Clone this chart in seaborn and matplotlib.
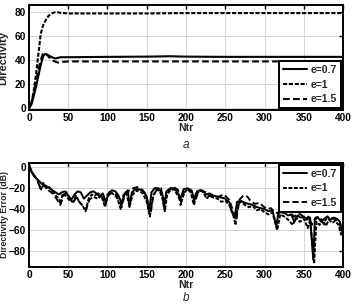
import matplotlib
matplotlib.use("Agg")
import matplotlib.pyplot as plt
import seaborn as sns
import pandas as pd

# ---------------- data: panel a (Directivity) ----------------
a_x_07 = [0, 3, 6, 9, 12, 15, 18, 20, 22, 25, 28, 31, 34, 37, 40, 50, 100, 150, 180, 200, 250, 300, 400]
a_y_07 = [0, 3, 10, 18, 27, 36, 43, 45, 45, 44, 43, 42, 41.5, 42, 42.5, 42.5, 42.8, 43, 43.3, 43, 42.8, 42.8, 42.8]

a_x_10 = [0, 3, 6, 9, 12, 15, 18, 21, 25, 29, 33, 36, 40, 50, 100, 150, 200, 250, 300, 400]
a_y_10 = [0, 4, 14, 28, 45, 62, 69, 73, 77, 79, 80, 80, 79.5, 79, 79, 79, 79.3, 79.3, 79.3, 79.3]

a_x_15 = [0, 3, 6, 9, 12, 15, 18, 21, 25, 29, 33, 37, 40, 50, 100, 200, 300, 400]
a_y_15 = [0, 4, 12, 22, 32, 40, 46, 46, 43, 40, 39, 38, 38.5, 39, 39, 39, 39, 39]

# ---------------- data: panel b (Directivity Error, dB) ----------------
b_x_07 = [0, 3, 6, 10, 14, 18, 22, 26, 30, 34, 38, 42, 46, 50, 54, 58, 62, 66, 70, 74, 78, 82, 86, 90, 94, 98,
          102, 106, 110, 114, 118, 122, 126, 128, 131, 135, 140, 145, 150, 153, 156, 160, 165, 170, 172, 175,
          180, 185, 190, 193, 197, 202, 207, 210, 214, 218, 222, 226, 230, 235, 240, 245, 250, 255, 258, 262,
          265, 270, 275, 280, 285, 290, 295, 300, 305, 310, 315, 318, 322, 326, 330, 334, 338, 342, 346, 350,
          354, 358, 362, 364, 368, 372, 376, 380, 384, 388, 392, 396, 399]
b_y_07 = [0, -4, -8, -11, -14, -17, -18, -20, -22, -24, -26, -24, -23, -27, -31, -26, -23, -24, -30, -27, -24,
          -23, -25, -28, -25, -33, -24, -22, -23, -27, -35, -25, -22, -38, -24, -21, -21, -22, -28, -42, -24,
          -20, -20, -26, -38, -23, -20, -20, -25, -30, -21, -20, -22, -30, -23, -22, -23, -26, -25, -27, -28,
          -29, -30, -33, -42, -48, -33, -32, -34, -35, -36, -38, -39, -40, -42, -41, -56, -42, -43, -44, -46,
          -45, -52, -46, -48, -47, -50, -48, -88, -50, -48, -52, -49, -47, -50, -48, -49, -52, -62]

b_x_10 = [0, 4, 8, 12, 15, 18, 22, 26, 30, 34, 38, 40, 43, 48, 52, 56, 60, 64, 68, 72, 76, 80, 84, 88, 92, 97,
          100, 104, 108, 112, 117, 120, 124, 128, 132, 136, 140, 145, 150, 154, 158, 162, 166, 170, 173, 176,
          180, 185, 190, 194, 198, 202, 206, 210, 214, 218, 222, 226, 230, 235, 240, 245, 250, 255, 260, 263,
          266, 270, 275, 280, 285, 290, 295, 300, 305, 310, 316, 320, 325, 330, 336, 340, 345, 350, 355, 358,
          363, 366, 370, 374, 378, 382, 386, 390, 394, 398]
b_y_10 = [1, -5, -9, -14, -22, -15, -20, -19, -23, -27, -30, -35, -25, -28, -32, -33, -27, -33, -36, -42, -30,
          -26, -29, -30, -27, -38, -26, -24, -26, -29, -40, -27, -24, -38, -26, -23, -22, -25, -33, -47, -27,
          -22, -22, -30, -42, -26, -22, -21, -28, -33, -24, -21, -24, -36, -25, -22, -24, -30, -27, -29, -30,
          -33, -32, -36, -45, -55, -35, -33, -36, -38, -37, -41, -40, -43, -45, -43, -60, -45, -47, -50, -55,
          -48, -52, -49, -58, -50, -92, -52, -55, -50, -56, -50, -53, -51, -55, -65]

b_x_15 = [0, 5, 10, 15, 20, 25, 30, 35, 40, 44, 48, 52, 56, 60, 65, 70, 73, 77, 82, 88, 93, 97, 101, 106, 110,
          115, 118, 122, 128, 133, 138, 143, 148, 152, 155, 158, 163, 168, 172, 175, 180, 185, 190, 193, 197,
          202, 207, 211, 215, 220, 225, 230, 236, 242, 248, 255, 260, 264, 268, 273, 278, 283, 288, 293, 298,
          303, 308, 313, 318, 323, 328, 333, 338, 343, 348, 352, 356, 360, 365, 370, 375, 380, 385, 390, 395, 400]
b_y_15 = [2, -6, -12, -20, -17, -22, -25, -30, -36, -27, -24, -30, -34, -29, -34, -38, -40, -31, -28, -25, -27,
          -36, -27, -24, -25, -32, -38, -26, -22, -20, -19, -21, -25, -35, -44, -28, -21, -20, -35, -26, -21,
          -19, -22, -36, -24, -21, -23, -33, -25, -22, -24, -27, -29, -28, -26, -31, -42, -50, -31, -27, -28,
          -33, -35, -34, -37, -40, -39, -43, -44, -42, -40, -44, -47, -44, -46, -50, -47, -55, -48, -47, -54,
          -47, -48, -50, -53, -62]

labels = ["e=0.7", "e=1", "e=1.5"]
x_ticks = [0, 50, 100, 150, 200, 250, 300, 350, 400]
a_y_ticks = [0, 20, 40, 60, 80]
b_y_ticks = [0, -20, -40, -60, -80]


def frame(xs, ys):
    parts = []
    for lab, x, y in zip(labels, xs, ys):
        parts.append(pd.DataFrame({"Ntr": x, "val": y, "series": lab}))
    return pd.concat(parts, ignore_index=True)


df_a = frame([a_x_07, a_x_10, a_x_15], [a_y_07, a_y_10, a_y_15])
df_b = frame([b_x_07, b_x_10, b_x_15], [b_y_07, b_y_10, b_y_15])

sns.set_style("white")
plt.rcParams["font.family"] = ["Liberation Sans", "DejaVu Sans"]
plt.rcParams["font.weight"] = "bold"

fig = plt.figure(figsize=(3.53, 3.06), dpi=100)
ax1 = fig.add_axes([0.082, 0.6405, 0.89, 0.343])
ax2 = fig.add_axes([0.082, 0.1275, 0.89, 0.340])

dash_map = {"e=0.7": "", "e=1": (2, 0.8), "e=1.5": (3.2, 1.6)}
pal = {lab: "black" for lab in labels}


def style(ax, ylim, yticks, ylabel, ylabel_size, ylabel_x, legend_loc):
    ax.set_xlim(0, 400)
    ax.set_ylim(*ylim)
    ax.set_xticks(x_ticks)
    ax.set_yticks(yticks)
    ax.grid(True, color="#d4d4d4", linewidth=0.7)
    ax.set_axisbelow(True)
    for s in ax.spines.values():
        s.set_color("black")
        s.set_linewidth(1.4)
    ax.tick_params(direction="in", length=3, width=1, labelsize=7.3, pad=2,
                   top=True, right=True, colors="black")
    for t in ax.get_xticklabels() + ax.get_yticklabels():
        t.set_fontweight("bold")
    ax.set_xlabel("Ntr", fontsize=7.5, fontweight="bold", labelpad=0)
    ax.set_ylabel(ylabel, fontsize=ylabel_size, fontweight="bold")
    ax.yaxis.set_label_coords(ylabel_x, 0.5)
    leg = ax.legend(loc=legend_loc, fontsize=7.5, frameon=True, fancybox=False,
                    handlelength=2.3, borderpad=0.35, labelspacing=0.45,
                    handletextpad=0.4, borderaxespad=0.2)
    leg.get_frame().set_edgecolor("black")
    leg.get_frame().set_linewidth(1.4)
    leg.get_frame().set_alpha(1)
    for t in leg.get_texts():
        t.set_fontweight("bold")


sns.lineplot(data=df_a, x="Ntr", y="val", hue="series", style="series", dashes=dash_map,
             palette=pal, linewidth=1.5, ax=ax1, sort=False, estimator=None)
style(ax1, (-1.5, 86), a_y_ticks, "Directivity", 8, -0.065, "lower right")

sns.lineplot(data=df_b, x="Ntr", y="val", hue="series", style="series", dashes=dash_map,
             palette=pal, linewidth=1.4, ax=ax2, sort=False, estimator=None)
style(ax2, (-95, 4), b_y_ticks, "Directivity Error (dB)", 6.3, -0.062, "upper right")

fig.text(0.527, 1 - 145 / 306, "a", ha="center", va="center", fontsize=8.5,
         fontstyle="italic", fontweight="normal")
fig.text(0.527, 1 - 298 / 306, "b", ha="center", va="center", fontsize=8.5,
         fontstyle="italic", fontweight="normal")

fig.savefig("out.png", dpi=100)
